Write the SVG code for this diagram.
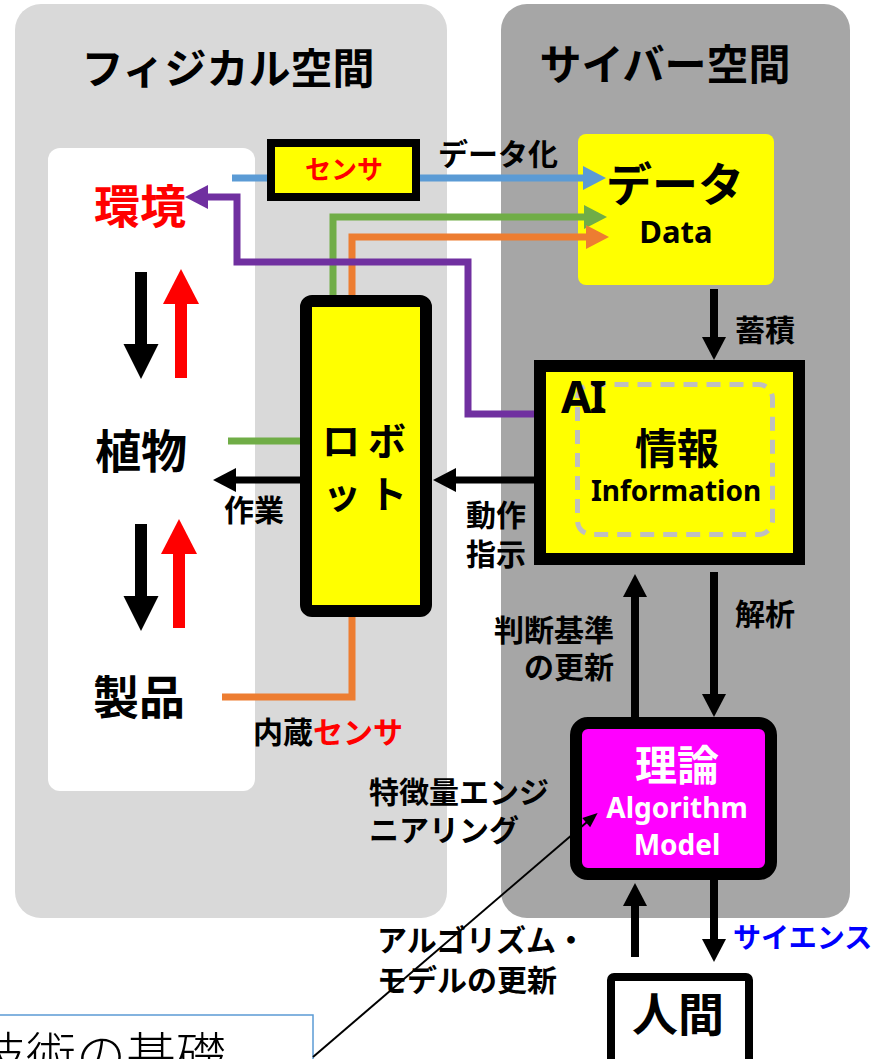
<svg xmlns="http://www.w3.org/2000/svg" width="894" height="1059" viewBox="0 0 894 1059">
<style>
.jp{font-family:"Noto Sans CJK JP","Noto Sans",sans-serif;font-weight:bold;fill:#000}
.la{font-family:"Noto Sans","Noto Sans CJK JP",sans-serif;font-weight:bold;fill:#000}
.mid{text-anchor:middle}
.end{text-anchor:end}
.red{fill:#ff0000}
.wht{fill:#ffffff}
.line{fill:none;stroke-linejoin:miter}
</style>
<defs>
<marker id="hk" markerUnits="userSpaceOnUse" markerWidth="24" markerHeight="26" refX="1" refY="12" orient="auto" overflow="visible"><path d="M0,0 L23,12 L0,24 Z" fill="#000"/></marker>
<marker id="hkb" markerUnits="userSpaceOnUse" markerWidth="36" markerHeight="36" refX="1" refY="17.5" orient="auto" overflow="visible"><path d="M0,0 L35,17.5 L0,35 Z" fill="#000"/></marker>
<marker id="hr" markerUnits="userSpaceOnUse" markerWidth="36" markerHeight="36" refX="1" refY="18" orient="auto" overflow="visible"><path d="M0,0 L35,18 L0,36 Z" fill="#ff0000"/></marker>
<marker id="hb" markerUnits="userSpaceOnUse" markerWidth="24" markerHeight="26" refX="1" refY="12" orient="auto" overflow="visible"><path d="M0,0 L23,12 L0,24 Z" fill="#5b9bd5"/></marker>
<marker id="hg" markerUnits="userSpaceOnUse" markerWidth="24" markerHeight="26" refX="1" refY="12" orient="auto" overflow="visible"><path d="M0,0 L23,12 L0,24 Z" fill="#70ad47"/></marker>
<marker id="ho" markerUnits="userSpaceOnUse" markerWidth="24" markerHeight="26" refX="1" refY="12" orient="auto" overflow="visible"><path d="M0,0 L23,12 L0,24 Z" fill="#ed7d31"/></marker>
<marker id="hp" markerUnits="userSpaceOnUse" markerWidth="24" markerHeight="26" refX="1" refY="12" orient="auto" overflow="visible"><path d="M0,0 L23,12 L0,24 Z" fill="#7030a0"/></marker>
<marker id="ht" markerUnits="userSpaceOnUse" markerWidth="16" markerHeight="14" refX="1" refY="6" orient="auto" overflow="visible"><path d="M0,0 L15,6 L0,12 Z" fill="#000"/></marker>
</defs>

<g id="physical-space">
<rect x="15" y="4" width="432" height="914" rx="26" fill="#d9d9d9"/>
<text class="jp mid" x="228" y="84" font-size="42">フィジカル空間</text>
<rect x="48" y="148" width="207" height="643" rx="12" fill="#ffffff"/>
</g>
<g id="cyber-space">
<rect x="501" y="4" width="349" height="914" rx="26" fill="#a6a6a6"/>
<text class="jp mid" x="665" y="80" font-size="42">サイバー空間</text>
</g>

<g id="data">
<rect x="578" y="134" width="196" height="151" rx="8" fill="#ffff00"/>
<text class="jp mid" x="675" y="201" font-size="46">データ</text>
<text class="la mid" x="676" y="243" font-size="31">Data</text>
</g>

<g id="robot">
<rect x="306" y="301" width="120" height="310" rx="6" fill="#ffff00" stroke="#000" stroke-width="12"/>
<text class="jp mid" x="341 387" y="455" font-size="38">ロボ</text>
<text class="jp mid" x="342 388" y="508" font-size="38">ット</text>
</g>

<g id="ai">
<rect x="540" y="366" width="259" height="193" fill="#ffff00" stroke="#000" stroke-width="12"/>
<rect x="577.5" y="384.5" width="195" height="150" rx="14" fill="none" stroke="#bfbfbf" stroke-width="5" stroke-dasharray="14 9"/>
<text class="la" x="561" y="413" font-size="44" letter-spacing="-2">AI</text>
<text class="jp mid" x="677" y="464" font-size="42">情報</text>
<text class="la mid" x="676" y="501" font-size="28">Information</text>
</g>

<g id="theory">
<rect x="576" y="723" width="195" height="151" rx="12" fill="#ff00ff" stroke="#000" stroke-width="12"/>
<text class="jp mid wht" x="677" y="781" font-size="42">理論</text>
<text class="la mid wht" x="677" y="818" font-size="28">Algorithm</text>
<text class="la mid wht" x="677" y="855" font-size="28">Model</text>
</g>

<g id="human">
<rect x="611" y="977" width="138" height="100" rx="3" fill="#ffffff" stroke="#000" stroke-width="8"/>
<text class="jp mid" x="678" y="1031" font-size="46">人間</text>
</g>

<g id="environment"><text class="jp mid red" x="140" y="223" font-size="46">環境</text></g>
<g id="plant"><text class="jp mid" x="141" y="468" font-size="46">植物</text></g>
<g id="product"><text class="jp mid" x="139" y="714" font-size="46">製品</text></g>

<g id="basics">
<rect x="-5" y="1015" width="318" height="60" fill="#ffffff" stroke="#5b9bd5" stroke-width="1.5"/>
<text x="-24" y="1074" font-size="50" font-weight="300" font-family="'Noto Sans CJK JP',sans-serif" fill="#000">技術の基礎</text>
</g>

<g id="connectors">
<path class="line" d="M232,178 H584" stroke="#5b9bd5" stroke-width="7" marker-end="url(#hb)"/>
<path class="line" d="M333,295 V217 H585" stroke="#70ad47" stroke-width="7" marker-end="url(#hg)"/>
<path class="line" d="M352,295 V237 H587" stroke="#ed7d31" stroke-width="7" marker-end="url(#ho)"/>
<path class="line" d="M534,414 H468 V262 H237 V197 H207" stroke="#7030a0" stroke-width="7" marker-end="url(#hp)"/>
<path class="line" d="M300,441 H228" stroke="#70ad47" stroke-width="7"/>
<path class="line" d="M352,617 V697 H222" stroke="#ed7d31" stroke-width="7"/>
<path class="line" d="M300,480 H235" stroke="#000" stroke-width="7" marker-end="url(#hk)"/>
<path class="line" d="M534,480 H455" stroke="#000" stroke-width="7" marker-end="url(#hk)"/>
<path class="line" d="M714,289 V338" stroke="#000" stroke-width="8" marker-end="url(#hk)"/>
<path class="line" d="M635,717 V596" stroke="#000" stroke-width="8" marker-end="url(#hk)"/>
<path class="line" d="M714,572 V695" stroke="#000" stroke-width="8" marker-end="url(#hk)"/>
<path class="line" d="M635,957 V905" stroke="#000" stroke-width="8" marker-end="url(#hk)"/>
<path class="line" d="M714,880 V940" stroke="#000" stroke-width="8" marker-end="url(#hk)"/>
<path class="line" d="M141,272 V345" stroke="#000" stroke-width="12" marker-end="url(#hkb)"/>
<path class="line" d="M181,378 V303" stroke="#ff0000" stroke-width="12" marker-end="url(#hr)"/>
<path class="line" d="M141,524 V597" stroke="#000" stroke-width="12" marker-end="url(#hkb)"/>
<path class="line" d="M179,628 V553" stroke="#ff0000" stroke-width="12" marker-end="url(#hr)"/>
<path class="line" d="M313,1057 L587,822" stroke="#000" stroke-width="2" marker-end="url(#ht)"/>
</g>

<g id="sensor">
<rect x="271" y="143" width="145" height="54" fill="#ffff00" stroke="#000" stroke-width="8"/>
<text class="jp mid red" x="344" y="179" font-size="26">センサ</text>
</g>

<g id="labels">
<text class="jp" x="438" y="165" font-size="30">データ化</text>
<text class="jp mid" x="254" y="521" font-size="30">作業</text>
<text class="jp" x="253" y="743" font-size="30">内蔵<tspan class="red">センサ</tspan></text>
<text class="jp" x="369" y="803" font-size="30">特徴量エンジ</text>
<text class="jp" x="369" y="841" font-size="30">ニアリング</text>
<text class="jp" x="466" y="526" font-size="30">動作</text>
<text class="jp" x="466" y="565" font-size="30">指示</text>
<text class="jp" x="735" y="341" font-size="30">蓄積</text>
<text class="jp end" x="614" y="641" font-size="30">判断基準</text>
<text class="jp end" x="614" y="678" font-size="30">の更新</text>
<text class="jp" x="735" y="625" font-size="30">解析</text>
<text class="jp" x="377" y="951" font-size="30">アルゴリズム・</text>
<text class="jp" x="377" y="991" font-size="30">モデルの更新</text>
<text class="jp" x="733" y="948" font-size="28" style="fill:#0000ff">サイエンス</text>
</g>
</svg>
